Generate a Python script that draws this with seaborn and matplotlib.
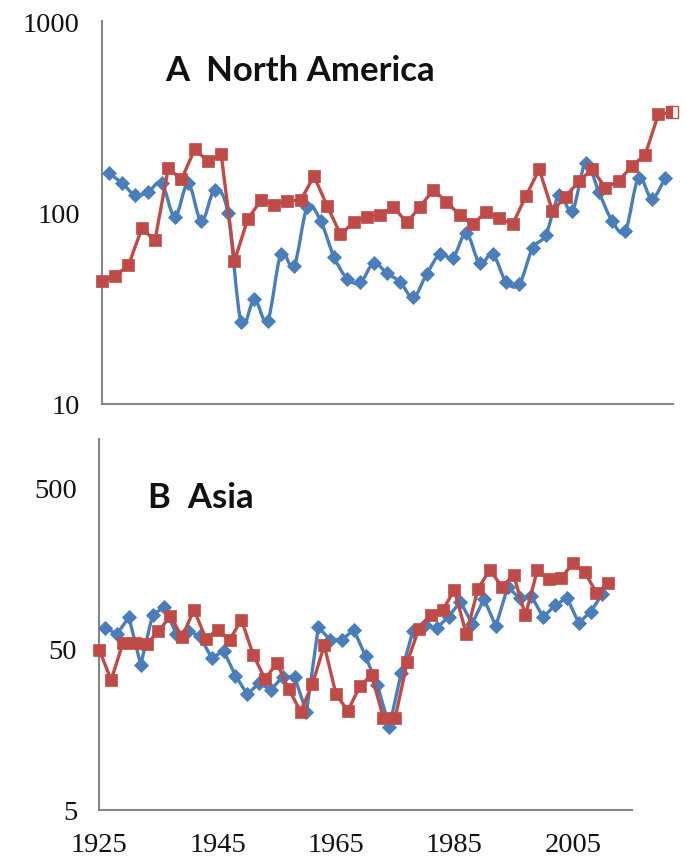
import numpy as np
import pandas as pd
import matplotlib
matplotlib.use("Agg")
import matplotlib.pyplot as plt
from matplotlib.path import Path
from matplotlib.patches import PathPatch
from matplotlib.ticker import FixedLocator, FixedFormatter, NullLocator
import seaborn as sns

# ---- data -------------------------------------------------------------
# A: North America
na_blue_years = list(range(1926, 2011, 2))
na_blue = [160, 143, 123, 128, 143, 95, 142, 90, 131, 100,
           26.7, 35.2, 27.2, 60.5, 52.6, 107, 90.4, 58.9, 45.2, 43.1,
           54.3, 48.2, 43.4, 36, 47.6, 60.5, 58.2, 78, 54.3, 60.5,
           43.4, 42.3, 65.2, 76.4, 123, 102, 181, 128, 90.4, 80.2,
           152, 118, 151]
na_red_years = list(range(1925, 2012, 2))
na_red = [44, 46.7, 53, 82.5, 71.6, 170, 149, 214, 185, 201,
          55.8, 92.3, 116, 110, 115, 116, 155, 108, 77, 88.7,
          95.3, 96.8, 107, 88.7, 107, 131, 114, 96.8, 86.9, 101,
          93.4, 86.9, 122, 168, 102, 121, 146, 168, 135, 146,
          175, 200, 326, 333]

# B: Asia
as_blue_years = list(range(1926, 2011, 2))
as_blue = [67.3, 61.8, 78.5, 39.7, 81.4, 90.6, 61.8, 64.7, 59.7, 43.7,
           48.6, 34.1, 26.1, 30.6, 27.8, 33.6, 33.3, 20.2, 68, 56.9,
           56.9, 65.6, 44.8, 29.6, 16.4, 35.3, 64.7, 70.6, 67, 79,
           98, 71.5, 102, 69, 121, 103, 106, 78.5, 93, 103.5,
           72.3, 84.7, 109.6]
as_red_years = list(range(1925, 2012, 2))
as_red = [49.3, 32, 54.3, 54.3, 53.5, 64.2, 79.6, 59.2, 87.5, 57.7,
          65.6, 56.4, 75.9, 45.9, 32.5, 40.7, 28.2, 20.4, 30.1, 52.5,
          26.1, 20.6, 29.2, 34.4, 18.7, 18.7, 41.1, 66.7, 81.5, 86.8,
          115.5, 61.8, 118, 155, 121, 143, 80.8, 153, 135, 137,
          169, 150, 111, 127]

tick_years_a = list(range(1925, 2006, 10))
tick_years_b = list(range(1925, 2006, 20))
ticks_a = [10, 100, 1000]
ticks_b = [5, 50, 500]

BLUE = "#4A7EBB"
RED = "#BE4B48"
GREY = "#868686"
SERIF = ["Liberation Serif", "DejaVu Serif"]

sns.set_style("white")
plt.rcParams["font.family"] = SERIF


def smooth_curve(ax, xs, ys, color, lw):
    """Excel-like smoothed line: Catmull-Rom Bezier in (x, log y) space."""
    px = np.asarray(xs, float)
    py = np.log10(np.asarray(ys, float))
    n = len(px)
    verts = [(px[0], py[0])]
    codes = [Path.MOVETO]
    for i in range(n - 1):
        i0, i3 = max(i - 1, 0), min(i + 2, n - 1)
        p0 = np.array([px[i0], py[i0]])
        p1 = np.array([px[i], py[i]])
        p2 = np.array([px[i + 1], py[i + 1]])
        p3 = np.array([px[i3], py[i3]])
        c1 = p1 + (p2 - p0) / 6.0
        c2 = p2 - (p3 - p1) / 6.0
        verts += [tuple(c1), tuple(c2), tuple(p2)]
        codes += [Path.CURVE4] * 3
    verts = np.array(verts)
    verts[:, 1] = 10 ** verts[:, 1]
    patch = PathPatch(Path(verts, codes), facecolor="none", edgecolor=color,
                      lw=lw, transform=ax.transData, zorder=2,
                      capstyle="round", joinstyle="round")
    ax.add_patch(patch)


def style_axes(ax):
    for side in ("top", "right"):
        ax.spines[side].set_visible(False)
    for side in ("left", "bottom"):
        ax.spines[side].set_color(GREY)
        ax.spines[side].set_linewidth(1.5)
    ax.yaxis.set_minor_locator(NullLocator())
    ax.xaxis.set_minor_locator(NullLocator())
    ax.tick_params(axis="both", which="major", direction="out", color=GREY,
                   width=1.0, labelsize=20.5, labelcolor="#111111")
    ax.tick_params(axis="y", length=6, pad=10)
    ax.grid(False)


def serif_ticklabels(ax):
    for lbl in ax.get_xticklabels() + ax.get_yticklabels():
        lbl.set_fontfamily(SERIF)


fig = plt.figure(figsize=(6.86, 8.62), dpi=100)
W, H = 686, 862
axA = fig.add_axes([102 / W, 1 - 405 / H, 571 / W, 383 / H])
axB = fig.add_axes([99.3 / W, 1 - 811 / H, 532.7 / W, 371 / H])

dfA_b = pd.DataFrame({"year": na_blue_years, "value": na_blue})
dfA_r = pd.DataFrame({"year": na_red_years, "value": na_red})
dfB_b = pd.DataFrame({"year": as_blue_years, "value": as_blue})
dfB_r = pd.DataFrame({"year": as_red_years, "value": as_red})

# ---- panel A ----------------------------------------------------------
axA.set_yscale("log")
smooth_curve(axA, dfA_b["year"], dfA_b["value"], BLUE, 2.4)
sns.scatterplot(data=dfA_b, x="year", y="value", ax=axA, marker="D", s=50,
                color=BLUE, edgecolor=BLUE, linewidth=0.6, zorder=3,
                clip_on=False, legend=False)
sns.lineplot(data=dfA_r.iloc[:-1], x="year", y="value", ax=axA, color=RED,
             lw=2.4, marker="s", markersize=9, markeredgecolor=RED,
             markeredgewidth=0.5, zorder=4, clip_on=False, legend=False)
# last point: line segment plus half-open square
sns.lineplot(data=dfA_r.iloc[-2:], x="year", y="value", ax=axA, color=RED,
             lw=2.4, zorder=4, clip_on=False, legend=False)
axA.plot(dfA_r["year"].iloc[-1], dfA_r["value"].iloc[-1], marker="s",
         markersize=9, color=RED, markeredgecolor=RED, markeredgewidth=1.0,
         fillstyle="left", markerfacecoloralt="white", zorder=5,
         clip_on=False)

axA.set_xlim(1925, 2011.2)
axA.set_ylim(10, 1000)
axA.yaxis.set_major_locator(FixedLocator(ticks_a))
axA.yaxis.set_major_formatter(FixedFormatter([str(t) for t in ticks_a]))
axA.set_xticks(tick_years_a)
axA.set_xticklabels([])
style_axes(axA)
axA.tick_params(axis="x", length=5)
axA.set_xlabel("")
axA.set_ylabel("")
axA.text(0.11, 0.872, "A  North America", transform=axA.transAxes,
         family=["Lato", "DejaVu Sans"], fontweight="bold", fontsize=25,
         color="#111111", ha="left", va="center")
serif_ticklabels(axA)

# ---- panel B ----------------------------------------------------------
axB.set_yscale("log")
sns.lineplot(data=dfB_b, x="year", y="value", ax=axB, color=BLUE, lw=2.4,
             marker="D", markersize=6.8, markeredgecolor=BLUE,
             markeredgewidth=0.6, zorder=3, clip_on=False, legend=False)
sns.lineplot(data=dfB_r, x="year", y="value", ax=axB, color=RED, lw=2.4,
             marker="s", markersize=9, markeredgecolor=RED,
             markeredgewidth=0.5, zorder=4, clip_on=False, legend=False)

axB.set_xlim(1925, 2015)
axB.set_ylim(5, 1000)
axB.yaxis.set_major_locator(FixedLocator(ticks_b))
axB.yaxis.set_major_formatter(FixedFormatter([str(t) for t in ticks_b]))
axB.set_xticks(tick_years_b)
axB.set_xticklabels([str(t) for t in tick_years_b])
style_axes(axB)
axB.tick_params(axis="x", length=7, pad=9)
axB.set_xlabel("")
axB.set_ylabel("")
axB.text(0.092, 0.843, "B  Asia", transform=axB.transAxes,
         family=["Lato", "DejaVu Sans"], fontweight="bold", fontsize=25,
         color="#111111", ha="left", va="center")
serif_ticklabels(axB)

fig.savefig("out.png", dpi=100, facecolor="white")
